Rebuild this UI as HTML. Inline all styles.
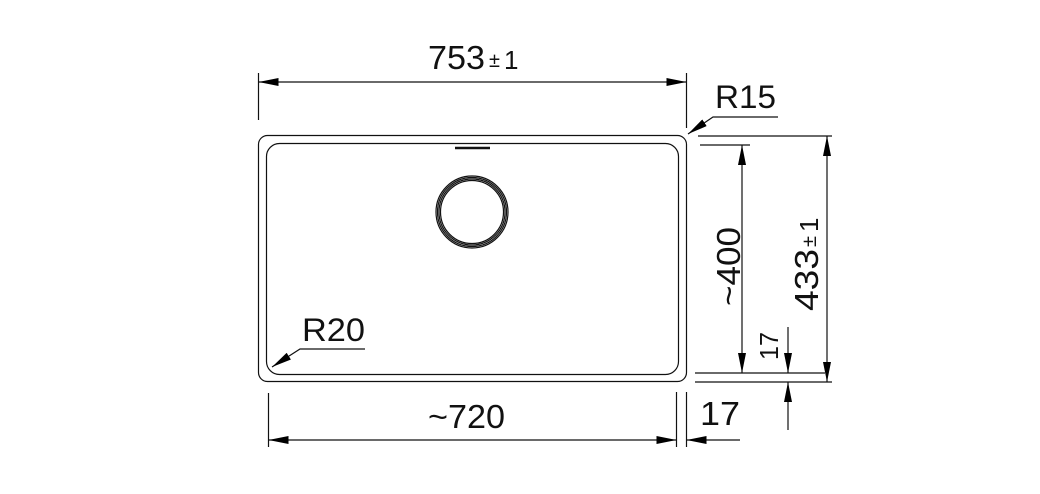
<!DOCTYPE html>
<html><head><style>body{margin:0;background:#fff}svg{display:block}text{font-family:"Liberation Sans",Arial,sans-serif;fill:#111}</style></head>
<body>
<svg width="1040" height="494" viewBox="0 0 1040 494" xmlns="http://www.w3.org/2000/svg">
<defs>
<marker id="a" viewBox="0 0 20 8" refX="20" refY="4" markerWidth="20" markerHeight="8" markerUnits="userSpaceOnUse" orient="auto-start-reverse"><path d="M0,0L20,4L0,8z" fill="#000"/></marker>
</defs>
<g stroke="#111" fill="none" stroke-width="1.2">
<rect x="258.5" y="135.5" width="428" height="246" rx="9"/>
<rect x="266.5" y="143.5" width="412" height="231" rx="13"/>
<line x1="455" y1="148" x2="490" y2="148" stroke-width="2.5"/>
<circle cx="472" cy="212" r="36"/>
<circle cx="472" cy="212" r="34.5"/>
<circle cx="472" cy="212" r="33"/>
<circle cx="472" cy="212" r="31.5"/>
<line x1="258.5" y1="73" x2="258.5" y2="120"/>
<line x1="686.5" y1="73" x2="686.5" y2="128"/>
<line x1="258.5" y1="82" x2="686.5" y2="82" marker-start="url(#a)" marker-end="url(#a)"/>
<polyline points="778,117 713,117 688,134" marker-end="url(#a)"/>
<polyline points="365,349 300,349 272,367" marker-end="url(#a)"/>
<line x1="698" y1="136" x2="832" y2="136"/>
<line x1="700" y1="145" x2="750" y2="145"/>
<line x1="695" y1="373" x2="825" y2="373"/>
<line x1="695" y1="382" x2="832" y2="382"/>
<line x1="742" y1="145" x2="742" y2="373" marker-start="url(#a)" marker-end="url(#a)"/>
<line x1="827" y1="136" x2="827" y2="382" marker-start="url(#a)" marker-end="url(#a)"/>
<line x1="788" y1="327" x2="788" y2="373" marker-end="url(#a)"/>
<line x1="788" y1="430" x2="788" y2="382" marker-end="url(#a)"/>
<line x1="268.5" y1="393" x2="268.5" y2="447"/>
<line x1="676.5" y1="392" x2="676.5" y2="447"/>
<line x1="686.5" y1="392" x2="686.5" y2="447"/>
<line x1="268.5" y1="440" x2="676.5" y2="440" marker-start="url(#a)" marker-end="url(#a)"/>
<line x1="740" y1="440" x2="686.5" y2="440" marker-end="url(#a)"/>
</g>
<text x="428" y="69" font-size="33" textLength="57" lengthAdjust="spacingAndGlyphs">753</text>
<text x="489" y="67" font-size="20">±</text>
<text x="504" y="69" font-size="26">1</text>
<text x="715" y="108" font-size="32" textLength="61" lengthAdjust="spacingAndGlyphs">R15</text>
<text x="302" y="341" font-size="32" textLength="63" lengthAdjust="spacingAndGlyphs">R20</text>
<text x="428" y="428" font-size="33" textLength="77" lengthAdjust="spacingAndGlyphs">~720</text>
<text x="700" y="425" font-size="33" textLength="40" lengthAdjust="spacingAndGlyphs">17</text>
<text transform="translate(740,306) rotate(-90)" font-size="33" textLength="79" lengthAdjust="spacingAndGlyphs">~400</text>
<text transform="translate(818,311) rotate(-90)" font-size="33" textLength="62" lengthAdjust="spacingAndGlyphs">433</text>
<text transform="translate(816,247) rotate(-90)" font-size="20">±</text>
<text transform="translate(818,232) rotate(-90)" font-size="26">1</text>
<text transform="translate(778,360) rotate(-90)" font-size="26" textLength="28" lengthAdjust="spacingAndGlyphs">17</text>
</svg>
</body></html>
